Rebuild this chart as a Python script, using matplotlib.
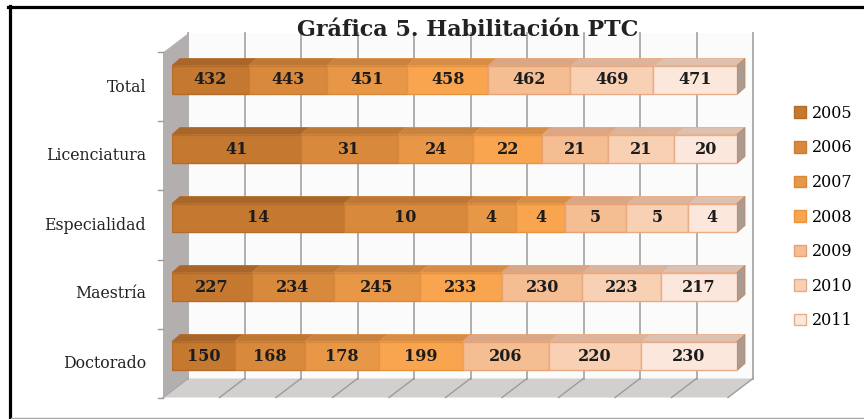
import matplotlib.pyplot as plt
from matplotlib.patches import Polygon, Patch
from matplotlib.lines import Line2D

plt.rcParams['font.family'] = 'DejaVu Serif'

categories = ["Total", "Licenciatura", "Especialidad", "Maestría", "Doctorado"]
years = ["2005", "2006", "2007", "2008", "2009", "2010", "2011"]
v2005 = [432, 41, 14, 227, 150]
v2006 = [443, 31, 10, 234, 168]
v2007 = [451, 24, 4, 245, 178]
v2008 = [458, 22, 4, 233, 199]
v2009 = [462, 21, 5, 230, 206]
v2010 = [469, 21, 5, 223, 220]
v2011 = [471, 20, 4, 217, 230]
series = [v2005, v2006, v2007, v2008, v2009, v2010, v2011]

colors = ["#c47830", "#d8893c", "#e79746", "#f9a44e", "#f5bd92", "#f8d0b3", "#fce7dc"]
edges = ["#b56c28", "#c97c34", "#d9893c", "#e8943f", "#e6a274", "#e8aa80", "#e9ae88"]
tops = ["#a9662a", "#bd7834", "#c98340", "#d68d48", "#d9a686", "#dcb49c", "#dcc0b0"]

W, H = 864, 419
fig = plt.figure(figsize=(W / 100, H / 100), dpi=100)

# front plane of the bars, in pixels from top-left
x0, x1 = 172, 737
ytop, ybot = 45.5, 390.5
ax = fig.add_axes([x0 / W, 1 - ybot / H, (x1 - x0) / W, (ybot - ytop) / H])
ax.set_xlim(0, 100)
ax.set_ylim(-0.5, 4.5)
ax.axis("off")
px = 100 / (x1 - x0)
py = 5 / (ybot - ytop)


def shift(pts, dx, dy):
    # dx, dy in pixels, dy positive = up
    return [(x + dx * px, y + dy * py) for x, y in pts]


FRONT = (-9, -7)   # front edge of the 3D box
BACK = (16, 12)    # back wall
DEPTH = (8, 7)     # bar depth

# back wall + gridlines
ax.add_patch(Polygon(shift([(0, -0.5), (100, -0.5), (100, 4.5), (0, 4.5)], *BACK),
                     fc="#fcfbfb", ec="none", zorder=0, clip_on=False))
for v in range(0, 101, 10):
    pts = shift([(v, -0.5), (v, 4.5)], *BACK)
    ax.plot([p[0] for p in pts], [p[1] for p in pts], color="#a9a9a9", lw=1.3,
            zorder=0.5, clip_on=False)

# floor
floor = shift([(0, -0.5), (100, -0.5)], *FRONT) + shift([(100, -0.5), (0, -0.5)], *BACK)
ax.add_patch(Polygon(floor, fc="#d3cfcf", ec="none", zorder=0.2, clip_on=False))
for v in range(0, 101, 10):
    pts = shift([(v, -0.5)], *FRONT) + shift([(v, -0.5)], *BACK)
    ax.plot([p[0] for p in pts], [p[1] for p in pts], color="#9c9c9c", lw=1,
            zorder=0.6, clip_on=False)

# left wall
wall = shift([(0, -0.5), (0, 4.5)], *FRONT) + shift([(0, 4.5), (0, -0.5)], *BACK)
ax.add_patch(Polygon(wall, fc="#b4afaf", ec="none", zorder=0.7, clip_on=False))
for k in range(6):
    pts = shift([(0, k - 0.5)], FRONT[0] - 5, FRONT[1]) + shift([(0, k - 0.5)], *FRONT)
    ax.plot([p[0] for p in pts], [p[1] for p in pts], color="#9a9a9a", lw=1,
            zorder=0.7, clip_on=False)

ypos = [4, 3, 2, 1, 0]
totals = [sum(s[j] for s in series) for j in range(len(categories))]
h = 0.42

for j, cat in enumerate(categories):
    y = ypos[j]
    left = 0
    for i, s in enumerate(series):
        w = s[j] / totals[j] * 100
        ax.barh(y, w, left=left, height=h, color=colors[i], edgecolor=edges[i],
                lw=1, zorder=3)
        top = [(left, y + h / 2), (left + w, y + h / 2)]
        ax.add_patch(Polygon(top + shift(top[::-1], *DEPTH), fc=tops[i],
                             ec=edges[i], lw=0.6, zorder=2.5 + i * 0.01, clip_on=False))
        ax.text(left + w / 2, y, str(s[j]), ha="center", va="center",
                fontsize=11.5, fontweight="bold", color="#1c1c1c", zorder=5)
        left += w
    cap = [(100, y - h / 2), (100, y + h / 2)]
    ax.add_patch(Polygon(cap + shift(cap[::-1], *DEPTH), fc="#a99a92",
                         ec="#c8875a", lw=0.6, zorder=2.8, clip_on=False))
    lx, ly = shift([(0, y)], -26, FRONT[1])[0]
    ax.text(lx, ly, cat, ha="right", va="center", fontsize=11.3, color="#222222")

fig.text(468 / W, 1 - 30 / H, "Gráfica 5. Habilitación PTC", ha="center",
         va="center", fontsize=16, fontweight="bold", color="#222222")

handles = [Patch(facecolor=colors[i], edgecolor=edges[i], label=years[i])
           for i in range(len(years))]
fig.legend(handles=handles, loc="center left", bbox_to_anchor=(794 / W, 1 - 217 / H),
           frameon=False, fontsize=11.5, handlelength=0.75, handleheight=0.75,
           handletextpad=0.4, labelspacing=1.1, borderpad=0, borderaxespad=0)

# frame around the picture
fig.add_artist(Line2D([9.5 / W, 9.5 / W], [0, 1 - 6 / H], color="black", lw=2.3))
fig.add_artist(Line2D([8 / W, 1], [1 - 7.5 / H, 1 - 7.5 / H], color="black", lw=2.3))
fig.add_artist(Line2D([11 / W, 1], [1 - 417.5 / H, 1 - 417.5 / H], color="#a6a6a6", lw=1))

fig.savefig("out.png", dpi=100)
